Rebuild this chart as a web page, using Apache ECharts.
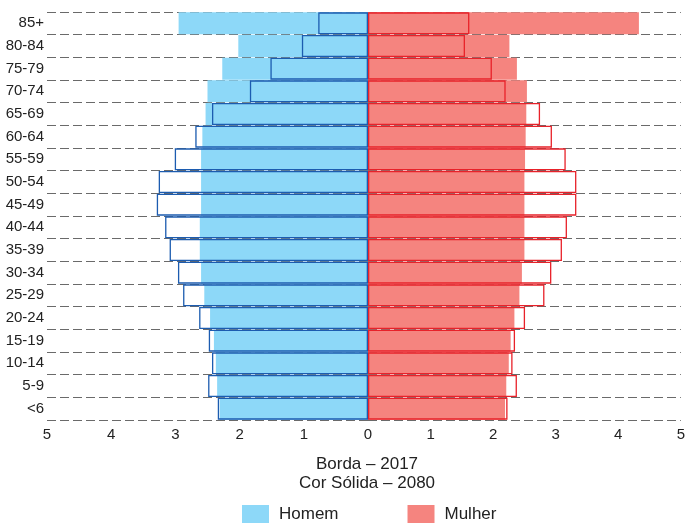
<!DOCTYPE html>
<html>
<head>
<meta charset="utf-8">
<script src="https://cdn.jsdelivr.net/npm/echarts@6/dist/echarts.min.js"></script>
<style>
  html, body { margin: 0; padding: 0; background: #fff; }
  #chart { width: 688px; height: 524px; }
</style>
</head>
<body>
<div id="chart"></div>
<script>
// faixas etárias (de baixo para cima)
const faixas = ["<6", "5-9", "10-14", "15-19", "20-24", "25-29", "30-34", "35-39", "40-44",
  "45-49", "50-54", "55-59", "60-64", "65-69", "70-74", "75-79", "80-84", "85+"];

// 2080 (cor sólida)
const homem2080 = [2.31, 2.35, 2.37, 2.40, 2.46, 2.55, 2.60, 2.62, 2.62,
  2.60, 2.60, 2.60, 2.58, 2.53, 2.50, 2.27, 2.02, 2.95];
const mulher2080 = [2.19, 2.21, 2.25, 2.28, 2.34, 2.42, 2.46, 2.50, 2.50,
  2.50, 2.50, 2.51, 2.52, 2.53, 2.54, 2.38, 2.26, 4.33];

// 2017 (borda)
const homem2017 = [2.34, 2.49, 2.43, 2.48, 2.63, 2.88, 2.96, 3.09, 3.16,
  3.29, 3.26, 3.01, 2.69, 2.43, 1.84, 1.52, 1.03, 0.775];
const mulher2017 = [2.23, 2.38, 2.31, 2.35, 2.51, 2.82, 2.93, 3.10, 3.18,
  3.33, 3.33, 3.16, 2.94, 2.75, 2.20, 1.98, 1.55, 1.62];

const corHomem = "#8dd8f8";
const corMulher = "#f5847f";
const bordaHomem = "#1c5cb0";
const bordaMulher = "#e8222a";
const fonte = "'Liberation Sans', Arial, sans-serif";

const chart = echarts.init(document.getElementById("chart"));

const eixoY = (grid, comRotulo) => ({
  type: "category",
  gridIndex: grid,
  data: faixas,
  axisLine: { show: false },
  axisTick: { show: false },
  axisLabel: { show: comRotulo, margin: 3, color: "#222", fontSize: 15, fontFamily: fonte },
  splitLine: { show: true, lineStyle: { color: "#6a6a6a", type: [9, 4], width: 1 } }
});

const eixoX = (grid, inverso) => ({
  type: "value",
  gridIndex: grid,
  min: 0,
  max: 5,
  interval: 1,
  inverse: inverso,
  axisLine: { show: false },
  axisTick: { show: false },
  splitLine: { show: false },
  axisLabel: {
    margin: 7,
    color: "#222",
    fontSize: 15,
    fontFamily: fonte,
    formatter: v => (!inverso && v === 0 ? "" : String(v))
  }
});

chart.setOption({
  animation: false,
  title: {
    text: "Borda – 2017\nCor Sólida – 2080",
    left: 367,
    textAlign: "center",
    top: 455,
    padding: 0,
    textStyle: { fontSize: 17, fontWeight: "normal", color: "#222", fontFamily: fonte, lineHeight: 19 }
  },
  legend: {
    data: ["Homem", "Mulher"],
    left: 242,
    top: 505,
    padding: 0,
    itemWidth: 27,
    itemHeight: 18,
    itemGap: 69,
    icon: "rect",
    textStyle: { fontSize: 17, color: "#222", fontFamily: fonte, padding: [0, 0, 0, 5] }
  },
  grid: [
    { left: 47, width: 321, top: 12, height: 408 },
    { left: 368, width: 316, top: 12, height: 408 }
  ],
  xAxis: [eixoX(0, true), eixoX(1, false)],
  yAxis: [eixoY(0, true), eixoY(1, false)],
  series: [
    {
      name: "Homem",
      type: "bar",
      xAxisIndex: 0,
      yAxisIndex: 0,
      data: homem2080,
      barGap: "-100%",
      barCategoryGap: "3%",
      itemStyle: { color: corHomem }
    },
    {
      name: "Homem 2017",
      type: "bar",
      xAxisIndex: 0,
      yAxisIndex: 0,
      data: homem2017,
      barGap: "-100%",
      barCategoryGap: "3%",
      itemStyle: { color: "rgba(0,0,0,0)", borderColor: bordaHomem, borderWidth: 1.3 }
    },
    {
      name: "Mulher",
      type: "bar",
      xAxisIndex: 1,
      yAxisIndex: 1,
      data: mulher2080,
      barGap: "-100%",
      barCategoryGap: "3%",
      itemStyle: { color: corMulher }
    },
    {
      name: "Mulher 2017",
      type: "bar",
      xAxisIndex: 1,
      yAxisIndex: 1,
      data: mulher2017,
      barGap: "-100%",
      barCategoryGap: "3%",
      itemStyle: { color: "rgba(0,0,0,0)", borderColor: bordaMulher, borderWidth: 1.3 }
    }
  ]
});
</script>
</body>
</html>
